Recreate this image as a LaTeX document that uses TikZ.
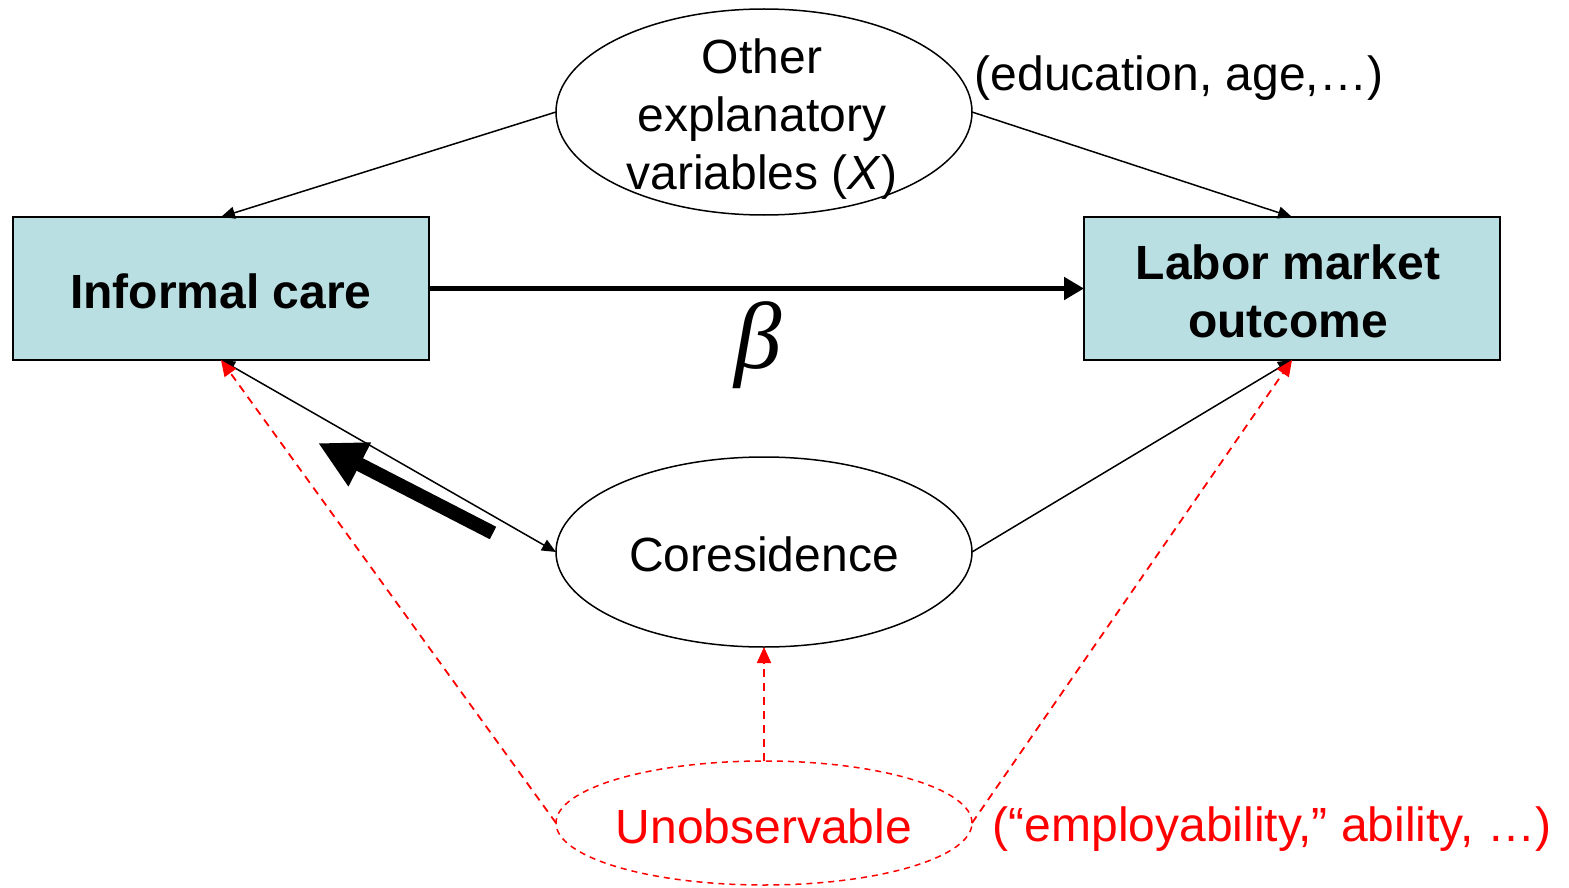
\documentclass[tikz,border=0pt]{standalone}
\usepackage{fontspec}
\setmainfont{Liberation Sans}
\newfontfamily\betafont{Liberation Serif}
\usetikzlibrary{shapes.geometric,arrows.meta}
\definecolor{boxfill}{RGB}{185,223,227}
\definecolor{myred}{RGB}{255,0,0}
\begin{document}
\begin{tikzpicture}[x=1pt,y=-1pt,
  every node/.style={inner sep=0pt,outer sep=0pt},
  oval/.style={ellipse,draw=black,line width=1.5pt,minimum width=416pt,align=center,font=\fontsize{48}{58}\selectfont},
  careb/.style={rectangle,draw=black,line width=1.8pt,fill=boxfill,minimum width=416pt,minimum height=143pt,align=center,font=\fontsize{48}{58}\selectfont\bfseries},
  txt/.style={align=center,font=\fontsize{48}{58}\selectfont},
  thin/.style={line width=1.5pt,-{Triangle[length=14pt,width=12pt]}},
  reddash/.style={myred,line width=1.8pt,dash pattern=on 8pt off 6pt,-{Triangle[length=16pt,width=14pt]}}
]
\useasboundingbox (0,0) rectangle (1569,888);
\node[oval,minimum height=206pt] (oth) at (764,112) {};
\node[txt] (othtxt) at (762,119) {Other\\explanatory\\variables (\textit{X})};
\node[careb] (ic) at (221,288.5) {};
\node[txt,font=\fontsize{48}{58}\selectfont\bfseries] (ictxt) at (221,291) {Informal care};
\node[careb] (lm) at (1292,288.5) {};
\node[txt,font=\fontsize{48}{58}\selectfont\bfseries] (lmtxt) at (1288,291) {Labor market\\outcome};
\node[oval,minimum height=190pt] (cor) at (764,552) {};
\node[txt] (cortxt) at (764,554) {Coresidence};
\node[ellipse,draw=myred,line width=1.5pt,dash pattern=on 6pt off 5pt,minimum width=416pt,minimum height=124pt] (uno) at (764,823) {};
\node[txt,text=myred] (unotxt) at (764,826) {Unobservable};
\node[txt] (edu) at (1179,78) {(education, age,\dots)};
\node[txt,text=myred] (emp) at (1272,829) {(“employability,” ability, \dots)};
\node[font=\fontsize{95}{100}\selectfont\betafont\itshape] (beta) at (758,345) {β};
\draw[thin] (oth.west) -- (ic.north);
\draw[thin] (oth.east) -- (lm.north);
\draw[line width=5pt,-{Triangle[length=20pt,width=22pt]}] (ic.east) -- (lm.west);
\draw[line width=1.5pt,{Triangle[length=14pt,width=12pt]}-{Triangle[length=14pt,width=12pt]}] (ic.south) -- (cor.west);
\draw[thin] (cor.east) -- (lm.south);
\coordinate (bt) at (493,533);
\coordinate (bh) at (318,443);
\draw[line width=14pt,-{Triangle[length=47pt,width=46pt]}] (bt) -- (bh);
\draw[reddash] (uno.west) -- (ic.south);
\draw[reddash] (uno.north) -- (cor.south);
\draw[reddash] (uno.east) -- (lm.south);
\end{tikzpicture}
\end{document}
